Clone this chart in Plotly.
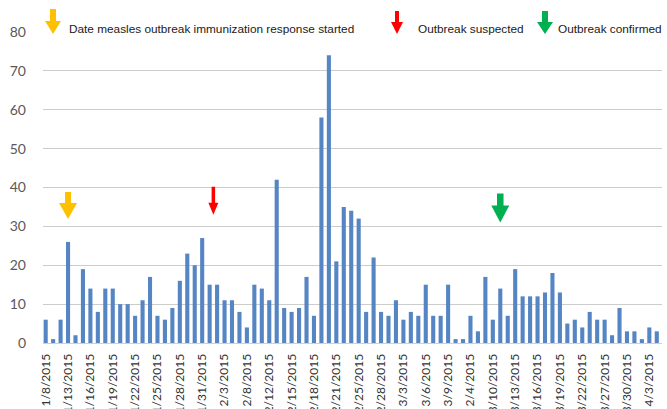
import plotly.graph_objects as go

# ---- data ----
cases = [6, 1, 6, 26, 2, 19, 14, 8, 14, 14, 10, 10, 7, 11, 17, 7, 6, 9, 16, 23,
         20, 27, 15, 15, 11, 11, 8, 4, 15, 14, 11, 42, 9, 8, 9, 17, 7, 58, 74, 21,
         35, 34, 32, 8, 22, 8, 7, 11, 6, 8, 7, 15, 7, 7, 15, 1, 1, 7, 3, 17,
         6, 14, 7, 19, 12, 12, 12, 13, 18, 13, 5, 6, 4, 8, 6, 6, 2, 9, 3, 3,
         1, 4, 3]
tick_labels = ["1/8/2015", "1/13/2015", "1/16/2015", "1/19/2015", "1/22/2015", "1/25/2015",
               "1/28/2015", "1/31/2015", "2/3/2015", "2/8/2015", "2/12/2015", "2/15/2015",
               "2/18/2015", "2/21/2015", "2/25/2015", "2/28/2015", "3/3/2015", "3/6/2015",
               "3/9/2015", "2/4/2015", "3/10/2015", "3/13/2015", "3/16/2015", "3/19/2015",
               "3/22/2015", "3/27/2015", "3/30/2015", "4/3/2015"]
tick_step = 3
y_ticks = [0, 10, 20, 30, 40, 50, 60, 70, 80]

# events: (label, colour, bar position, tip value)
event_labels = ["Date measles outbreak immunization response started",
                "Outbreak suspected", "Outbreak confirmed"]
event_colors = ["#FFC000", "#FF0000", "#00B050"]
event_pos = [3, 22.5, 61]
event_tip = [31.9, 33, 31]

x = list(range(len(cases)))
tickvals = [i * tick_step for i in range(len(tick_labels))]

fig = go.Figure()
fig.add_trace(go.Bar(x=x, y=cases, marker=dict(color="#5585C3", line=dict(width=0)),
                     width=0.55, hoverinfo="y"))

def arrow_path(shaft_w, head_w, head_h, total_h):
    sw, hw = shaft_w / 2, head_w / 2
    return (f"M {-sw},{total_h} L {sw},{total_h} L {sw},{head_h} L {hw},{head_h} "
            f"L 0,0 L {-hw},{head_h} L {-sw},{head_h} Z")

arrow_dims = [(6, 18, 16, 27), (3.5, 10, 12, 28), (6.5, 18, 17, 29)]
shapes = []
for pos, tip, col, d in zip(event_pos, event_tip, event_colors, arrow_dims):
    shapes.append(dict(type="path", xref="x", yref="y", xsizemode="pixel", ysizemode="pixel",
                       xanchor=pos, yanchor=tip, path=arrow_path(*d),
                       fillcolor=col, line=dict(width=0), layer="above"))

# legend arrows at top (paper coords)
leg_x_px = [53, 397, 545]
leg_dims = [(6, 16, 13, 25), (4, 12, 12, 23), (6, 16, 12, 23)]
W, H = 667, 409
ml, mr, mt, mb = 43, 5, 32, 66
pw, ph = W - ml - mr, H - mt - mb
# white strip hiding top gridline
shapes.append(dict(type="rect", xref="paper", yref="paper", x0=0, x1=1, y0=0.99, y1=1.02,
                   fillcolor="white", line=dict(width=0), layer="above"))
for xp, col, d in zip(leg_x_px, event_colors, leg_dims):
    shapes.append(dict(type="path", xref="paper", yref="paper", xsizemode="pixel", ysizemode="pixel",
                       xanchor=(xp - ml) / pw, yanchor=1 - (34 - mt) / ph,
                       path=arrow_path(*d), fillcolor=col, line=dict(width=0), layer="above"))

text_x_px = [67, 416, 556]
annotations = []
for tx, lab in zip(text_x_px, event_labels):
    annotations.append(dict(xref="paper", yref="paper", x=(tx - ml) / pw, y=1 - (29 - mt) / ph,
                            text=lab, showarrow=False, xanchor="left", yanchor="middle",
                            font=dict(family="Liberation Sans Narrow, Arial Narrow, sans-serif",
                                      size=11.8, color="#1a1a1a")))

fig.update_layout(
    width=W, height=H,
    margin=dict(l=ml, r=mr, t=mt, b=mb, autoexpand=False),
    plot_bgcolor="white", paper_bgcolor="white",
    showlegend=False, shapes=shapes, annotations=annotations,
    xaxis=dict(range=[-0.36, 82.7], tickmode="array", tickvals=tickvals, ticktext=tick_labels,
               tickangle=-90, showgrid=False, zeroline=False, showline=True,
               linecolor="#d0d0d0", linewidth=1, ticks="", automargin=False,
               ticklabelstandoff=5,
               tickfont=dict(family="Lato, sans-serif", size=12, color="#333333")),
    yaxis=dict(range=[0, 80], tickvals=y_ticks, showgrid=True, gridcolor="#cccccc", gridwidth=1.3,
               zeroline=False, showline=False, ticks="", ticklabelstandoff=16, automargin=False,
               tickfont=dict(family="Lato, sans-serif", size=14, color="#595959")),
)

fig.write_html("out.html", config={"displayModeBar": False},
               post_script="document.body.style.margin='0';document.body.style.overflow='hidden';")
